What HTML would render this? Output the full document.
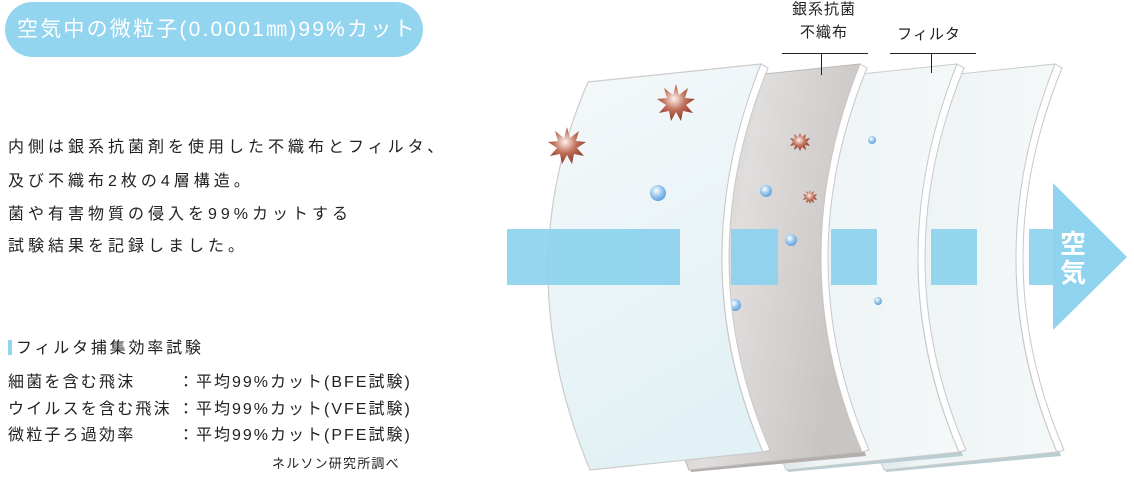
<!DOCTYPE html>
<html><head><meta charset="utf-8"><style>
html,body{margin:0;padding:0;background:#fff;}
body{width:1134px;height:484px;position:relative;overflow:hidden;font-family:"Liberation Sans","Noto Sans CJK JP",sans-serif;color:#222;}
.pill{position:absolute;left:5px;top:2px;width:418px;height:55px;border-radius:28px;background:#93d4ef;color:#fff;font-size:21px;line-height:55px;padding-left:12px;box-sizing:border-box;letter-spacing:2.2px;white-space:nowrap;}
.p{position:absolute;left:8px;font-size:16px;letter-spacing:4px;white-space:nowrap;line-height:20px;}
.h{position:absolute;left:8px;top:339px;font-size:16px;letter-spacing:2.8px;white-space:nowrap;line-height:20px;}
.h:before{content:"";display:inline-block;width:4px;height:15px;background:#93d4ef;margin-right:4px;vertical-align:-2px;}
.t{position:absolute;font-size:16px;letter-spacing:2.2px;white-space:nowrap;line-height:20px;}
.r{letter-spacing:2px;}
svg{position:absolute;left:0;top:0;}
</style></head><body>
<div class="pill">空気中の微粒子(0.0001㎜)99%カット</div>
<div class="p" style="top:138px">内側は銀系抗菌剤を使用した不織布とフィルタ、</div>
<div class="p" style="top:172px">及び不織布2枚の4層構造。</div>
<div class="p" style="top:205px">菌や有害物質の侵入を99%カットする</div>
<div class="p" style="top:237px">試験結果を記録しました。</div>
<div class="h">フィルタ捕集効率試験</div>
<div class="t" style="left:8px;top:373px">細菌を含む飛沫</div>
<div class="t" style="left:8px;top:400px">ウイルスを含む飛沫</div>
<div class="t" style="left:8px;top:426px">微粒子ろ過効率</div>
<div class="t r" style="left:178px;top:373px">：平均99%カット(BFE試験)</div>
<div class="t r" style="left:178px;top:400px">：平均99%カット(VFE試験)</div>
<div class="t r" style="left:178px;top:426px">：平均99%カット(PFE試験)</div>
<div class="t" style="left:272px;top:454px;font-size:13px;letter-spacing:1.2px">ネルソン研究所調べ</div>
<svg width="1134" height="484" viewBox="0 0 1134 484">
<defs>
<linearGradient id="g1" x1="0" y1="0" x2="0.3" y2="1"><stop offset="0" stop-color="#f5f8fa"/><stop offset="1" stop-color="#e2f1f5"/></linearGradient>
<linearGradient id="g2" x1="0" y1="0" x2="1" y2="0.3"><stop offset="0" stop-color="#b4afad"/><stop offset="0.5" stop-color="#e0dedd"/><stop offset="1" stop-color="#c9c5c3"/></linearGradient>
<linearGradient id="g3" x1="0" y1="0" x2="1" y2="0"><stop offset="0" stop-color="#d5dcdf"/><stop offset="0.35" stop-color="#eef3f5"/><stop offset="1" stop-color="#f4f8f9"/></linearGradient>
<radialGradient id="st" cx="0.45" cy="0.4" r="0.6"><stop offset="0" stop-color="#fff3ee"/><stop offset="0.5" stop-color="#c0705a"/><stop offset="1" stop-color="#8a3a28"/></radialGradient>
<radialGradient id="bb" cx="0.4" cy="0.35" r="0.7"><stop offset="0" stop-color="#ffffff"/><stop offset="0.5" stop-color="#9cc9ee"/><stop offset="1" stop-color="#5a9bd6"/></radialGradient>
</defs>
<g transform="translate(294,0)">
<path d="M590,466 L765,450 L767,456 L592,472 Z" fill="#b9cdd2"/>
<path d="M588,82 L761,64 Q682,265 763,452 L590,470 Q507,270 588,82 Z" fill="url(#g3)" stroke="#ccc" stroke-width="1"/>
<path d="M761,64 L768,68 Q689,262 770,450 L763,452 Q682,262 761,64 Z" fill="#fff" stroke="#c8c8c8" stroke-width="1"/>
</g>
<g transform="translate(196,0)">
<path d="M590,466 L765,450 L767,456 L592,472 Z" fill="#b9cdd2"/>
<path d="M588,82 L761,64 Q682,265 763,452 L590,470 Q507,270 588,82 Z" fill="url(#g3)" stroke="#ccc" stroke-width="1"/>
<path d="M761,64 L768,68 Q689,262 770,450 L763,452 Q682,262 761,64 Z" fill="#fff" stroke="#c8c8c8" stroke-width="1"/>
</g>
<g transform="translate(99,0)">
<path d="M590,466 L765,450 L767,456 L592,472 Z" fill="#b3aeab"/>
<path d="M588,82 L761,64 Q682,265 763,452 L590,470 Q507,270 588,82 Z" fill="url(#g2)" stroke="#bbb" stroke-width="1"/>
<path d="M761,64 L768,68 Q689,262 770,450 L763,452 Q682,262 761,64 Z" fill="#fff" stroke="#c8c8c8" stroke-width="1"/>
</g>
<circle cx="735" cy="305" r="6" fill="url(#bb)"/>
<circle cx="766" cy="191" r="6" fill="url(#bb)"/>
<circle cx="791" cy="240" r="6" fill="url(#bb)"/>
<circle cx="872" cy="140" r="4" fill="url(#bb)"/>
<circle cx="878" cy="301" r="4" fill="url(#bb)"/>
<polygon fill="url(#st)" points="800,133 802,137 806,134 805,139 810,138 807,142 810,146 805,145 806,150 802,147 800,151 798,147 794,150 795,145 790,146 793,142 790,138 795,139 794,134 798,137"/>
<polygon fill="url(#st)" points="810,190 811,193 814,191 813,195 817,194 815,197 817,200 813,199 814,203 811,201 810,204 809,201 806,203 807,199 803,200 805,197 803,194 807,195 806,191 809,193"/>
<path d="M588,82 L761,64 Q682,265 763,452 L590,470 Q507,270 588,82 Z" fill="url(#g1)" stroke="#ccc" stroke-width="1.2"/>
<path d="M761,64 L768,68 Q689,262 770,450 L763,452 Q682,262 761,64 Z" fill="#fff" stroke="#c8c8c8" stroke-width="1"/>
<circle cx="658" cy="193" r="8" fill="url(#bb)"/>
<polygon fill="url(#st)" points="567,127 570,138 579,131 576,141 586,142 577,148 584,156 574,154 572,164 567,155 562,164 560,154 550,156 557,148 548,142 558,141 555,131 564,138"/>
<polygon fill="url(#st)" points="676,84 679,95 688,88 685,98 695,99 686,105 693,113 683,111 681,121 676,112 671,121 669,111 659,113 666,105 657,99 667,98 664,88 673,95"/>
<g fill="#8dd2ee" opacity="0.92">
<rect x="507" y="229" width="173" height="56"/>
<rect x="731" y="229" width="47" height="56"/>
<rect x="831" y="229" width="46" height="56"/>
<rect x="931" y="229" width="46" height="56"/>
<rect x="1029" y="229" width="26" height="56"/>
</g>
<polygon points="1053,183 1127,257 1053,330" fill="#8fd3ee"/>
<text x="1073" y="253" font-size="26" font-weight="bold" fill="#fff" text-anchor="middle" font-family="Liberation Sans, Noto Sans CJK JP, sans-serif">空</text>
<text x="1073" y="282" font-size="26" font-weight="bold" fill="#fff" text-anchor="middle" font-family="Liberation Sans, Noto Sans CJK JP, sans-serif">気</text>
<g font-size="15" fill="#222" text-anchor="middle" font-family="Liberation Sans, Noto Sans CJK JP, sans-serif" letter-spacing="1">
<text x="824" y="14">銀系抗菌</text>
<text x="824" y="37">不織布</text>
<text x="929" y="39">フィルタ</text>
</g>
<g stroke="#222" stroke-width="1">
<line x1="782" y1="53.5" x2="868" y2="53.5"/>
<line x1="821.5" y1="53" x2="821.5" y2="75"/>
<line x1="890" y1="53.5" x2="976" y2="53.5"/>
<line x1="931.5" y1="53" x2="931.5" y2="73"/>
</g>
</svg>
</body></html>
